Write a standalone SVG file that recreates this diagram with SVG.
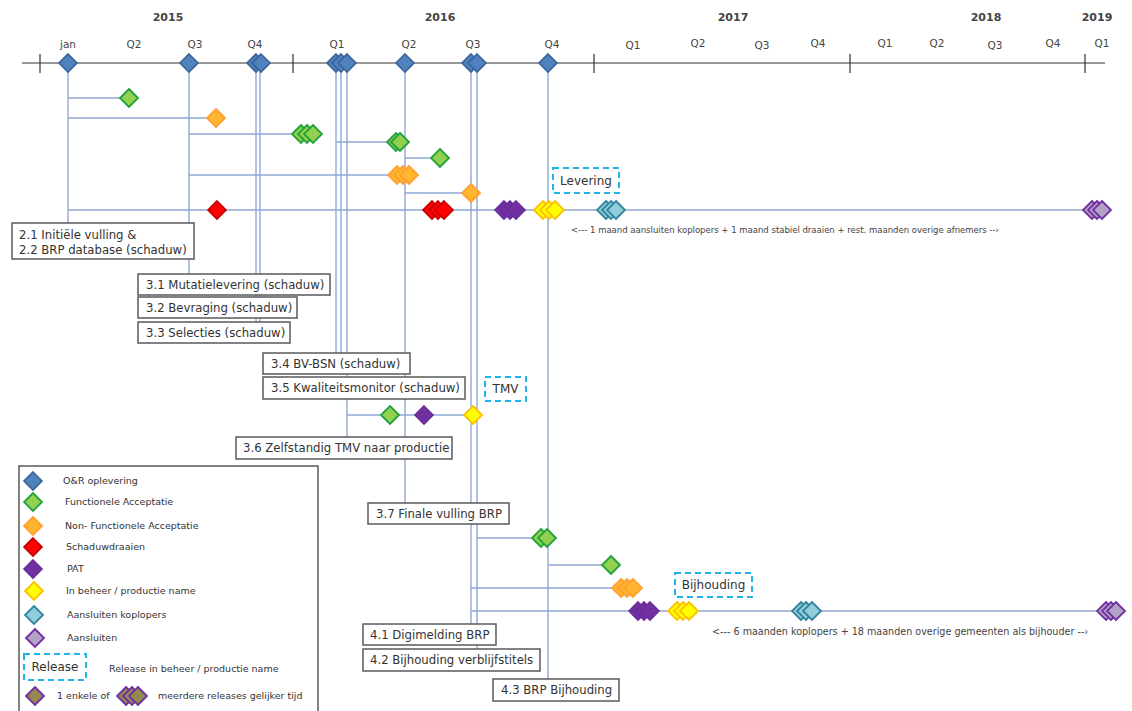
<svg xmlns="http://www.w3.org/2000/svg" xmlns:xlink="http://www.w3.org/1999/xlink" width="1132" height="711" viewBox="0 0 1132 711">
<style>
text{font-family:"DejaVu Sans","Liberation Sans",sans-serif;fill:#333}
.yr{font-size:11px;font-weight:bold;text-anchor:middle;fill:#444}
.q{font-size:10.5px;text-anchor:middle;fill:#444}
.bx{fill:#fff;stroke:#595959;stroke-width:1.5}
.bt{font-size:11.7px}
.ds{fill:#fff;stroke:#1fb5ea;stroke-width:2;stroke-dasharray:6 4}
.dt{font-size:12px;text-anchor:middle}
.lg{font-size:9.5px}
.note{font-size:8.5px;fill:#444}
.note2{font-size:9.6px;fill:#444}
.c line{stroke:#8fa9d4;stroke-width:1.4}
.ax{stroke:#333;stroke-width:1.2}
.b{fill:#4f81bd;stroke:#3a639a;stroke-width:1.6}
.g{fill:#92d050;stroke:#22a23a;stroke-width:1.8}
.o{fill:#ffb52e;stroke:#ffa030;stroke-width:1.8}
.r{fill:#ff0000;stroke:#c00000;stroke-width:1.6}
.p{fill:#7030a0;stroke:#6a2d9a;stroke-width:1.6}
.y{fill:#ffff00;stroke:#ffc000;stroke-width:1.8}
.t{fill:#92cddc;stroke:#31859c;stroke-width:1.8}
.a{fill:#b3a2c7;stroke:#7030a0;stroke-width:1.8}
.ol{fill:#938953;stroke:#7030a0;stroke-width:1.8}
</style>
<defs>
<path id="d" d="M0,-9 L9,0 L0,9 L-9,0Z"/>
</defs>
<rect width="1132" height="711" fill="#fff"/>

<g id="timeline">
<line class="ax" x1="22" y1="63" x2="1105" y2="63"/>
<line class="ax" x1="40" y1="54" x2="40" y2="73"/>
<line class="ax" x1="293" y1="54" x2="293" y2="73"/>
<line class="ax" x1="594" y1="54" x2="594" y2="73"/>
<line class="ax" x1="850" y1="54" x2="850" y2="73"/>
<line class="ax" x1="1085" y1="54" x2="1085" y2="73"/>
<text class="yr" x="168" y="21">2015</text>
<text class="yr" x="440" y="21">2016</text>
<text class="yr" x="733" y="21">2017</text>
<text class="yr" x="986" y="21">2018</text>
<text class="yr" x="1097" y="21">2019</text>
<text class="q" x="68" y="48">jan</text>
<text class="q" x="134" y="48">Q2</text>
<text class="q" x="195" y="48">Q3</text>
<text class="q" x="255" y="48">Q4</text>
<text class="q" x="337" y="48">Q1</text>
<text class="q" x="409" y="48">Q2</text>
<text class="q" x="473" y="48">Q3</text>
<text class="q" x="552" y="48">Q4</text>
<text class="q" x="633" y="49">Q1</text>
<text class="q" x="698" y="47">Q2</text>
<text class="q" x="762" y="49">Q3</text>
<text class="q" x="818" y="47">Q4</text>
<text class="q" x="885" y="47">Q1</text>
<text class="q" x="937" y="47">Q2</text>
<text class="q" x="995" y="49">Q3</text>
<text class="q" x="1053" y="47">Q4</text>
<text class="q" x="1102" y="47">Q1</text>
</g>

<g id="connectors" class="c">
<line x1="68" y1="63" x2="68" y2="223"/>
<line x1="189" y1="63" x2="189" y2="274"/>
<line x1="256" y1="63" x2="256" y2="322"/>
<line x1="260" y1="63" x2="260" y2="322"/>
<line x1="336" y1="63" x2="336" y2="353"/>
<line x1="341" y1="63" x2="341" y2="353"/>
<line x1="347" y1="63" x2="347" y2="437"/>
<line x1="405" y1="63" x2="405" y2="503"/>
<line x1="471" y1="63" x2="471" y2="624"/>
<line x1="477" y1="63" x2="477" y2="649"/>
<line x1="548" y1="63" x2="548" y2="679"/>
<line x1="68" y1="98" x2="129" y2="98"/>
<line x1="68" y1="118" x2="216" y2="118"/>
<line x1="189" y1="134" x2="300" y2="134"/>
<line x1="336" y1="142" x2="396" y2="142"/>
<line x1="405" y1="158" x2="440" y2="158"/>
<line x1="189" y1="175" x2="397" y2="175"/>
<line x1="405" y1="193" x2="471" y2="193"/>
<line x1="68" y1="210" x2="1092" y2="210"/>
<line x1="347" y1="415" x2="473" y2="415"/>
<line x1="477" y1="538" x2="541" y2="538"/>
<line x1="548" y1="565" x2="611" y2="565"/>
<line x1="471" y1="588" x2="621" y2="588"/>
<line x1="471" y1="611" x2="1106" y2="611"/>
</g>

<g id="axis-milestones">
<use href="#d" class="b" x="68" y="63"/>
<use href="#d" class="b" x="189" y="63"/>
<use href="#d" class="b" x="256" y="63"/>
<use href="#d" class="b" x="261" y="63"/>
<use href="#d" class="b" x="336" y="63"/>
<use href="#d" class="b" x="341" y="63"/>
<use href="#d" class="b" x="347" y="63"/>
<use href="#d" class="b" x="405" y="63"/>
<use href="#d" class="b" x="471" y="63"/>
<use href="#d" class="b" x="477" y="63"/>
<use href="#d" class="b" x="548" y="63"/>
</g>

<g id="row-milestones">
<use href="#d" class="g" x="129" y="98"/>
<use href="#d" class="o" x="216" y="118"/>
<use href="#d" class="g" x="301" y="134"/>
<use href="#d" class="g" x="307" y="134"/>
<use href="#d" class="g" x="313" y="134"/>
<use href="#d" class="g" x="396" y="142"/>
<use href="#d" class="g" x="400" y="142"/>
<use href="#d" class="g" x="440" y="158"/>
<use href="#d" class="o" x="397" y="175"/>
<use href="#d" class="o" x="403" y="175"/>
<use href="#d" class="o" x="409" y="175"/>
<use href="#d" class="o" x="471" y="193"/>
<use href="#d" class="r" x="217" y="210"/>
<use href="#d" class="r" x="432" y="210"/>
<use href="#d" class="r" x="438" y="210"/>
<use href="#d" class="r" x="444" y="210"/>
<use href="#d" class="p" x="504" y="210"/>
<use href="#d" class="p" x="510" y="210"/>
<use href="#d" class="p" x="516" y="210"/>
<use href="#d" class="y" x="543" y="210"/>
<use href="#d" class="y" x="549" y="210"/>
<use href="#d" class="y" x="555" y="210"/>
<use href="#d" class="t" x="606" y="210"/>
<use href="#d" class="t" x="611" y="210"/>
<use href="#d" class="t" x="616" y="210"/>
<use href="#d" class="a" x="1092" y="210"/>
<use href="#d" class="a" x="1097" y="210"/>
<use href="#d" class="a" x="1102" y="210"/>
<use href="#d" class="g" x="390" y="415"/>
<use href="#d" class="p" x="424" y="415"/>
<use href="#d" class="y" x="473" y="415"/>
<use href="#d" class="g" x="541" y="538"/>
<use href="#d" class="g" x="547" y="538"/>
<use href="#d" class="g" x="611" y="565"/>
<use href="#d" class="o" x="621" y="588"/>
<use href="#d" class="o" x="627" y="588"/>
<use href="#d" class="o" x="633" y="588"/>
<use href="#d" class="p" x="638" y="611"/>
<use href="#d" class="p" x="644" y="611"/>
<use href="#d" class="p" x="650" y="611"/>
<use href="#d" class="y" x="677" y="611"/>
<use href="#d" class="y" x="683" y="611"/>
<use href="#d" class="y" x="689" y="611"/>
<use href="#d" class="t" x="801" y="611"/>
<use href="#d" class="t" x="806" y="611"/>
<use href="#d" class="t" x="812" y="611"/>
<use href="#d" class="a" x="1106" y="611"/>
<use href="#d" class="a" x="1111" y="611"/>
<use href="#d" class="a" x="1116" y="611"/>
</g>

<g id="release-levering">
<rect class="ds" x="553" y="168" width="66" height="25"/>
<text class="dt" x="586" y="185">Levering</text>
</g>
<g id="release-tmv">
<rect class="ds" x="485" y="377" width="41" height="24"/>
<text class="dt" x="505.5" y="393">TMV</text>
</g>
<g id="release-bijhouding">
<rect class="ds" x="675" y="573" width="77" height="24"/>
<text class="dt" x="713.5" y="589">Bijhouding</text>
</g>

<text class="note" x="571" y="233">&lt;--- 1 maand aansluiten koplopers + 1 maand stabiel draaien  + rest. maanden overige afnemers --›</text>
<text class="note2" x="712" y="635">&lt;--- 6 maanden koplopers + 18 maanden overige gemeenten als bijhouder --›</text>

<g id="box-2-1">
<rect class="bx" x="12" y="223" width="182" height="36"/>
<text class="bt" x="19" y="239">2.1 Initiële vulling &amp;</text>
<text class="bt" x="19" y="254">2.2 BRP database (schaduw)</text>
</g>
<g id="box-3-1">
<rect class="bx" x="138" y="274" width="192" height="21"/>
<text class="bt" x="146" y="289">3.1 Mutatielevering (schaduw)</text>
</g>
<g id="box-3-2">
<rect class="bx" x="138" y="297" width="159" height="21"/>
<text class="bt" x="146" y="312">3.2 Bevraging (schaduw)</text>
</g>
<g id="box-3-3">
<rect class="bx" x="138" y="322" width="152" height="21"/>
<text class="bt" x="146" y="337">3.3 Selecties (schaduw)</text>
</g>
<g id="box-3-4">
<rect class="bx" x="263" y="353" width="147" height="21"/>
<text class="bt" x="271" y="368">3.4 BV-BSN (schaduw)</text>
</g>
<g id="box-3-5">
<rect class="bx" x="263" y="377" width="202" height="22"/>
<text class="bt" x="271" y="392">3.5 Kwaliteitsmonitor (schaduw)</text>
</g>
<g id="box-3-6">
<rect class="bx" x="236" y="437" width="216" height="22"/>
<text class="bt" x="243" y="452">3.6 Zelfstandig TMV naar productie</text>
</g>
<g id="box-3-7">
<rect class="bx" x="368" y="503" width="141" height="21"/>
<text class="bt" x="376" y="518">3.7 Finale vulling BRP</text>
</g>
<g id="box-4-1">
<rect class="bx" x="363" y="624" width="133" height="21"/>
<text class="bt" x="370" y="639">4.1 Digimelding BRP</text>
</g>
<g id="box-4-2">
<rect class="bx" x="363" y="649" width="177" height="22"/>
<text class="bt" x="370" y="664">4.2 Bijhouding verblijfstitels</text>
</g>
<g id="box-4-3">
<rect class="bx" x="493" y="679" width="126" height="22"/>
<text class="bt" x="501" y="694">4.3 BRP Bijhouding</text>
</g>

<g id="legend">
<rect x="19" y="466" width="299" height="250" fill="#fff" stroke="#595959" stroke-width="1.5"/>
<use href="#d" class="b" x="33" y="481"/>
<text class="lg" x="63" y="484">O&amp;R oplevering</text>
<use href="#d" class="g" x="33" y="502"/>
<text class="lg" x="65" y="505">Functionele Acceptatie</text>
<use href="#d" class="o" x="33" y="526"/>
<text class="lg" x="65" y="529">Non- Functionele Acceptatie</text>
<use href="#d" class="r" x="33" y="547"/>
<text class="lg" x="66" y="550">Schaduwdraaien</text>
<use href="#d" class="p" x="33" y="569"/>
<text class="lg" x="67" y="572">PAT</text>
<use href="#d" class="y" x="34" y="591"/>
<text class="lg" x="66" y="594">In beheer / productie name</text>
<use href="#d" class="t" x="34" y="615"/>
<text class="lg" x="67" y="618">Aansluiten koplopers</text>
<use href="#d" class="a" x="35" y="638"/>
<text class="lg" x="67" y="641">Aansluiten</text>
<rect class="ds" x="24" y="654" width="62" height="26"/>
<text class="dt" x="55" y="671">Release</text>
<text class="lg" x="109" y="672">Release in beheer / productie name</text>
<use href="#d" class="ol" x="35" y="696"/>
<text class="lg" x="57" y="699">1 enkele of</text>
<use href="#d" class="ol" x="126" y="696"/>
<use href="#d" class="ol" x="132" y="696"/>
<use href="#d" class="ol" x="138" y="696"/>
<text class="lg" x="158" y="699">meerdere releases gelijker tijd</text>
</g>
</svg>
